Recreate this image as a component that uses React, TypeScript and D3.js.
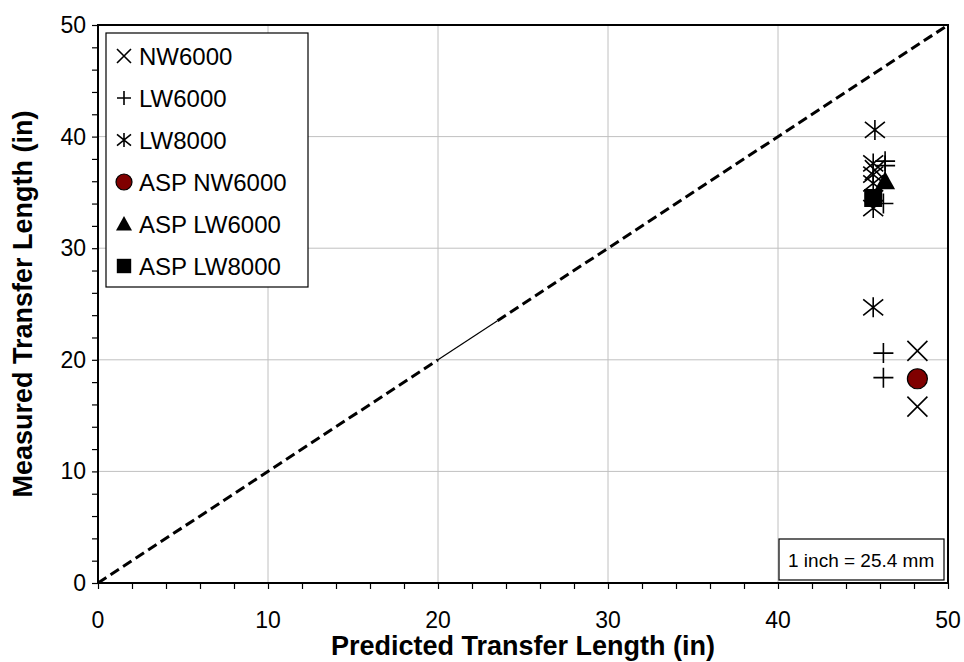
import React, { useEffect, useRef } from 'react'
import * as d3 from 'd3'

const W = 964
const H = 662

// [predicted, measured] in inches
const nw6000 = [[48.2, 20.8], [48.2, 15.8], [45.7, 37.0]]
const lw6000 = [[46.2, 20.6], [46.2, 18.4], [46.3, 37.8], [46.3, 37.4], [46.2, 34.0]]
const lw8000 = [[45.7, 40.6], [45.6, 24.7], [45.6, 37.6], [45.6, 36.6], [45.6, 35.8], [45.6, 33.6]]
const aspNw6000 = [[48.2, 18.3]]
const aspLw6000 = [[46.3, 36.0]]
const aspLw8000 = [[45.6, 34.5]]

const majorTicks = [0, 10, 20, 30, 40, 50]
const minorTicks = d3.range(0, 51, 2)
const equalityBreaks = [0, 20, 23.5, 50]

const legendLabels = ['NW6000', 'LW6000', 'LW8000', 'ASP NW6000', 'ASP LW6000', 'ASP LW8000']
const legendShapes = ['x', 'plus', 'star', 'circle', 'triangle', 'square']

const font = '"Liberation Sans", Arial, sans-serif'

function drawMarker(g, shape, cx, cy, r) {
  const s = g.append('g').attr('transform', `translate(${cx},${cy})`)
  if (shape === 'x') {
    s.append('path')
      .attr('d', `M${-r},${-r}L${r},${r}M${-r},${r}L${r},${-r}`)
      .attr('stroke', '#000').attr('stroke-width', 1.6).attr('fill', 'none')
  } else if (shape === 'plus') {
    s.append('path')
      .attr('d', `M${-r},0L${r},0M0,${-r}L0,${r}`)
      .attr('stroke', '#000').attr('stroke-width', 1.6).attr('fill', 'none')
  } else if (shape === 'star') {
    s.append('path')
      .attr('d', `M${-r},${-r * 0.8}L${r},${r * 0.8}M${-r},${r * 0.8}L${r},${-r * 0.8}M0,${-r}L0,${r}`)
      .attr('stroke', '#000').attr('stroke-width', 1.6).attr('fill', 'none')
  } else if (shape === 'circle') {
    s.append('circle').attr('r', r).attr('fill', '#800000').attr('stroke', '#000').attr('stroke-width', 1.2)
  } else if (shape === 'triangle') {
    s.append('path')
      .attr('d', `M0,${-r}L${r},${r * 0.8}L${-r},${r * 0.8}Z`)
      .attr('fill', '#000')
  } else if (shape === 'square') {
    s.append('rect').attr('x', -r * 0.9).attr('y', -r * 0.9)
      .attr('width', r * 1.8).attr('height', r * 1.8).attr('fill', '#000')
  }
}

export default function App() {
  const ref = useRef(null)

  useEffect(() => {
    const svg = d3.select(ref.current)
    svg.selectAll('*').remove()

    const margin = { top: 25, right: 16, bottom: 79, left: 98 }
    const x = d3.scaleLinear().domain([0, 50]).range([margin.left, W - margin.right])
    const y = d3.scaleLinear().domain([0, 50]).range([H - margin.bottom, margin.top])

    // gridlines
    const grid = svg.append('g')
    majorTicks.slice(1, -1).forEach(t => {
      grid.append('line').attr('x1', x(0)).attr('x2', x(50)).attr('y1', y(t)).attr('y2', y(t))
        .attr('stroke', '#c0c0c0').attr('stroke-width', 1)
      grid.append('line').attr('x1', x(t)).attr('x2', x(t)).attr('y1', y(0)).attr('y2', y(50))
        .attr('stroke', '#c0c0c0').attr('stroke-width', 1)
    })

    // axes (ticks only, labels drawn below)
    svg.append('g')
      .attr('transform', `translate(0,${y(0)})`)
      .call(d3.axisBottom(x).tickValues(minorTicks).tickSize(6).tickFormat(() => ''))
      .call(g => g.select('.domain').remove())
      .call(g => g.selectAll('line').attr('stroke', '#000').attr('stroke-width', 1.2))
    svg.append('g')
      .attr('transform', `translate(${x(0)},0)`)
      .call(d3.axisLeft(y).tickValues(minorTicks).tickSize(6).tickFormat(() => ''))
      .call(g => g.select('.domain').remove())
      .call(g => g.selectAll('line').attr('stroke', '#000').attr('stroke-width', 1.2))

    majorTicks.forEach(t => {
      svg.append('text').attr('x', x(t)).attr('y', 628).attr('text-anchor', 'middle')
        .attr('font-family', font).attr('font-size', 23).text(t)
      svg.append('text').attr('x', 86).attr('y', y(t) + 8).attr('text-anchor', 'end')
        .attr('font-family', font).attr('font-size', 23).text(t)
    })

    // equality line
    const line = d3.line().x(d => x(d)).y(d => y(d))
    svg.append('path').datum(equalityBreaks.slice(0, 2)).attr('d', line)
      .attr('stroke', '#000').attr('stroke-width', 3).attr('stroke-dasharray', '10,5').attr('fill', 'none')
    svg.append('path').datum(equalityBreaks.slice(1, 3)).attr('d', line)
      .attr('stroke', '#000').attr('stroke-width', 1.2).attr('fill', 'none')
    svg.append('path').datum(equalityBreaks.slice(2, 4)).attr('d', line)
      .attr('stroke', '#000').attr('stroke-width', 3).attr('stroke-dasharray', '10,5').attr('fill', 'none')

    // frame
    svg.append('rect').attr('x', x(0)).attr('y', y(50)).attr('width', x(50) - x(0)).attr('height', y(0) - y(50))
      .attr('fill', 'none').attr('stroke', '#000').attr('stroke-width', 2)

    // data
    const pts = svg.append('g')
    const series = [
      [nw6000, 'x', 10], [lw6000, 'plus', 10], [lw8000, 'star', 10],
      [aspNw6000, 'circle', 10], [aspLw6000, 'triangle', 10], [aspLw8000, 'square', 10]
    ]
    series.forEach(([data, shape, r]) => {
      data.forEach(d => drawMarker(pts, shape, x(d[0]), y(d[1]), r))
    })

    // legend
    const lg = svg.append('g')
    lg.append('rect').attr('x', 106).attr('y', 33).attr('width', 202).attr('height', 254)
      .attr('fill', '#fff').attr('stroke', '#000').attr('stroke-width', 1.2)
    legendLabels.forEach((label, i) => {
      const cy = 56 + i * 42
      drawMarker(lg, legendShapes[i], 124, cy, shapeLegendSize(legendShapes[i]))
      lg.append('text').attr('x', 139).attr('y', cy + 8.5).attr('font-family', font)
        .attr('font-size', 24).text(label)
    })

    // unit note
    svg.append('rect').attr('x', 779).attr('y', 539).attr('width', 165).attr('height', 41)
      .attr('fill', '#fff').attr('stroke', '#000').attr('stroke-width', 1.2)
    svg.append('text').attr('x', 788).attr('y', 567).attr('font-family', font).attr('font-size', 19)
      .text('1 inch = 25.4 mm')

    // axis titles
    svg.append('text').attr('x', (x(0) + x(50)) / 2).attr('y', 655).attr('text-anchor', 'middle')
      .attr('font-family', font).attr('font-size', 27).attr('font-weight', 'bold')
      .text('Predicted Transfer Length (in)')
    svg.append('text').attr('transform', `translate(32,${(y(0) + y(50)) / 2}) rotate(-90)`)
      .attr('text-anchor', 'middle').attr('font-family', font).attr('font-size', 27).attr('font-weight', 'bold')
      .text('Measured Transfer Length (in)')
  }, [])

  return <svg ref={ref} width={W} height={H} style={{ position: 'absolute', left: 0, top: 0, background: '#fff' }} />
}

function shapeLegendSize(shape) {
  return shape === 'circle' || shape === 'triangle' || shape === 'square' ? 8 : 7
}
